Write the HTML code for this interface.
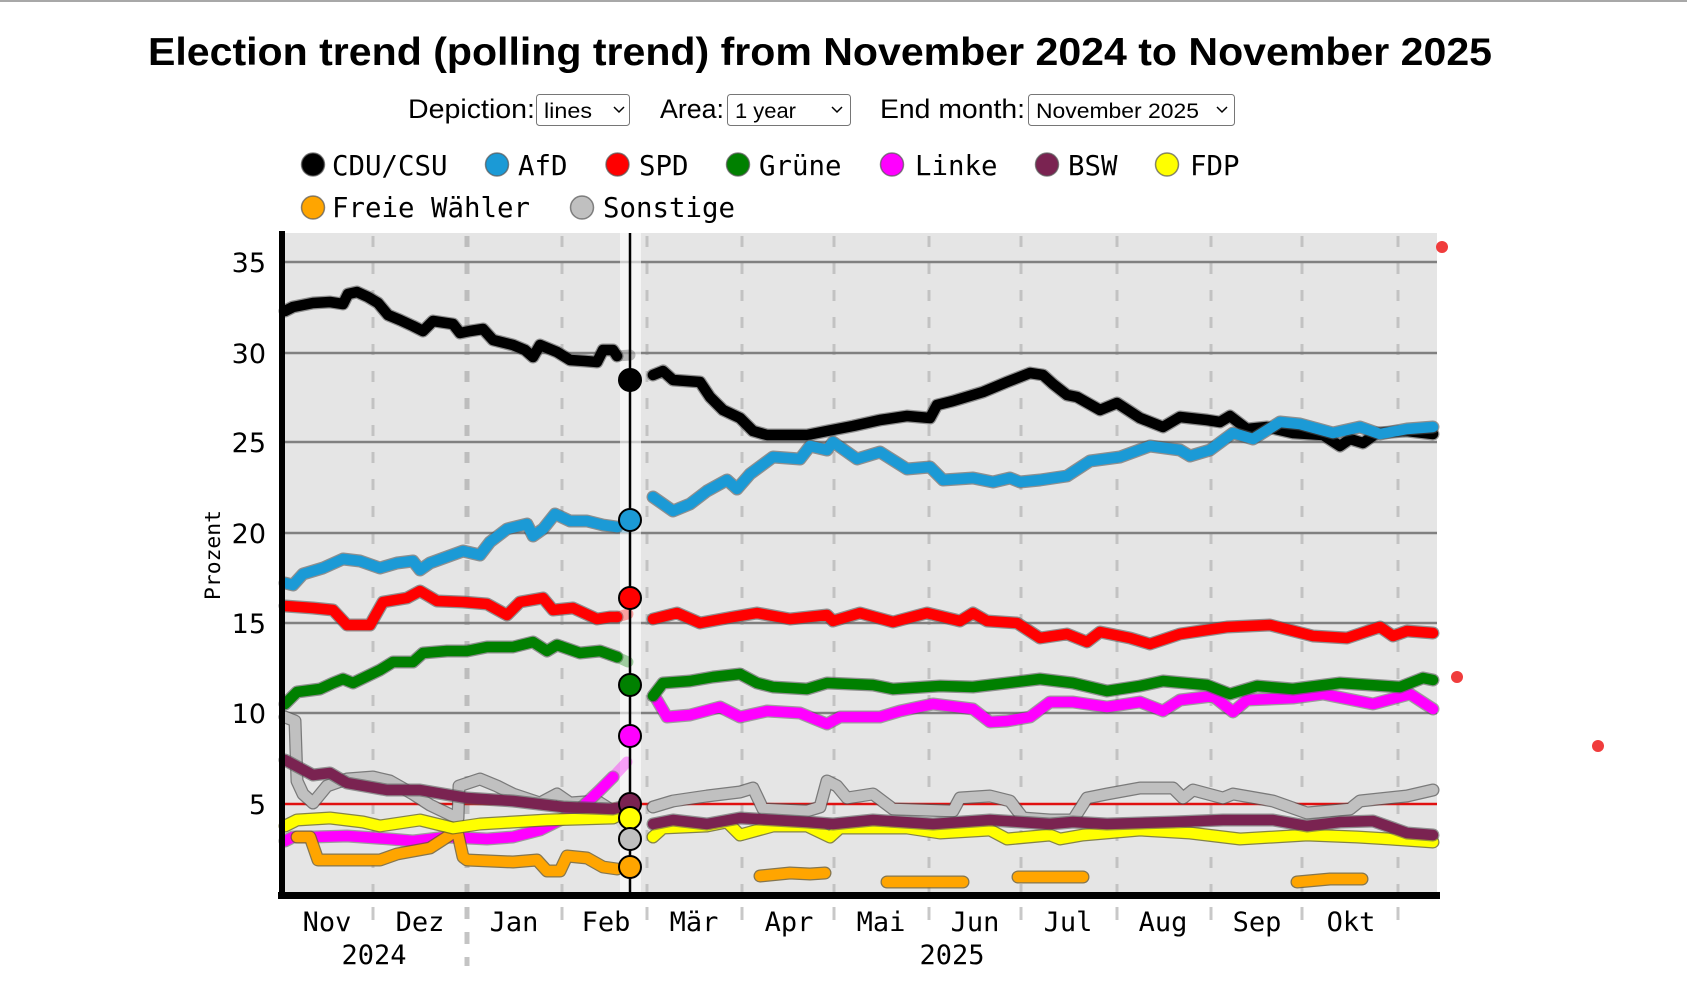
<!DOCTYPE html>
<html>
<head>
<meta charset="utf-8">
<style>
html,body{margin:0;padding:0;background:#fff;}
svg{display:block;}
</style>
</head>
<body>
<svg width="1687" height="998" viewBox="0 0 1687 998" xmlns="http://www.w3.org/2000/svg">
<rect x="0" y="0" width="1687" height="998" fill="#fff"/>
<line x1="0" y1="1" x2="1687" y2="1" stroke="#a8a8a8" stroke-width="2"/>

<!-- Title -->
<text x="148" y="65" font-family="Liberation Sans, sans-serif" font-weight="bold" font-size="39" textLength="1344" lengthAdjust="spacingAndGlyphs" fill="#000">Election trend (polling trend) from November 2024 to November 2025</text>

<!-- Controls -->
<g font-family="Liberation Sans, sans-serif" fill="#000">
<text x="408" y="118" font-size="27" textLength="127" lengthAdjust="spacingAndGlyphs">Depiction:</text>
<rect x="536.5" y="94.5" width="93" height="31" rx="3" fill="#fff" stroke="#767676" stroke-width="1"/>
<text x="544" y="118" font-size="21" textLength="48" lengthAdjust="spacingAndGlyphs">lines</text>
<polyline points="614,107 619,112 624,107" fill="none" stroke="#000" stroke-width="1.5"/>

<text x="660" y="118" font-size="27" textLength="64" lengthAdjust="spacingAndGlyphs">Area:</text>
<rect x="727.5" y="94.5" width="123" height="31" rx="3" fill="#fff" stroke="#767676" stroke-width="1"/>
<text x="735" y="118" font-size="21" textLength="61" lengthAdjust="spacingAndGlyphs">1 year</text>
<polyline points="832,107 837,112 842,107" fill="none" stroke="#000" stroke-width="1.5"/>

<text x="880" y="118" font-size="27" textLength="145" lengthAdjust="spacingAndGlyphs">End month:</text>
<rect x="1028.5" y="94.5" width="206" height="31" rx="3" fill="#fff" stroke="#767676" stroke-width="1"/>
<text x="1036" y="118" font-size="21" textLength="163" lengthAdjust="spacingAndGlyphs">November 2025</text>
<polyline points="1217,107 1222,112 1227,107" fill="none" stroke="#000" stroke-width="1.5"/>
</g>

<!-- Legend -->
<g stroke="#555" stroke-width="1.5" stroke-opacity="0.7">
<circle cx="313" cy="164.5" r="11.5" fill="#000"/>
<circle cx="497" cy="164.5" r="11.5" fill="#1b9ad6"/>
<circle cx="617.5" cy="164.5" r="11.5" fill="#ff0000"/>
<circle cx="738" cy="164.5" r="11.5" fill="#008000"/>
<circle cx="892" cy="164.5" r="11.5" fill="#ff00ff"/>
<circle cx="1047" cy="164.5" r="11.5" fill="#7a2351"/>
<circle cx="1167" cy="164.5" r="11.5" fill="#ffff00"/>
<circle cx="313" cy="207.5" r="11.5" fill="#ffa500"/>
<circle cx="582" cy="207.5" r="11.5" fill="#c0c0c0"/>
</g>
<g font-family="DejaVu Sans Mono, monospace" font-size="27.5" fill="#000">
<text x="332" y="175" textLength="115.5" lengthAdjust="spacingAndGlyphs">CDU/CSU</text>
<text x="518" y="175" textLength="49.5" lengthAdjust="spacingAndGlyphs">AfD</text>
<text x="639" y="175" textLength="49.5" lengthAdjust="spacingAndGlyphs">SPD</text>
<text x="759" y="175" textLength="82.5" lengthAdjust="spacingAndGlyphs">Grüne</text>
<text x="915" y="175" textLength="82.5" lengthAdjust="spacingAndGlyphs">Linke</text>
<text x="1068" y="175" textLength="49.5" lengthAdjust="spacingAndGlyphs">BSW</text>
<text x="1190" y="175" textLength="49.5" lengthAdjust="spacingAndGlyphs">FDP</text>
<text x="332" y="217" textLength="198" lengthAdjust="spacingAndGlyphs">Freie Wähler</text>
<text x="603" y="217" textLength="132" lengthAdjust="spacingAndGlyphs">Sonstige</text>
</g>

<!-- Plot background -->
<rect x="285" y="233" width="1152" height="660" fill="#e5e5e5"/>

<!-- vertical dashed month lines -->
<g stroke="#c2c2c2" stroke-width="3" stroke-dasharray="11 16">
<line x1="373" y1="236" x2="373" y2="892"/>
<line x1="562" y1="236" x2="562" y2="892"/>
<line x1="647" y1="236" x2="647" y2="892"/>
<line x1="742" y1="236" x2="742" y2="892"/>
<line x1="834" y1="236" x2="834" y2="892"/>
<line x1="929" y1="236" x2="929" y2="892"/>
<line x1="1021" y1="236" x2="1021" y2="892"/>
<line x1="1117" y1="236" x2="1117" y2="892"/>
<line x1="1211" y1="236" x2="1211" y2="892"/>
<line x1="1302" y1="236" x2="1302" y2="892"/>
<line x1="1398" y1="236" x2="1398" y2="892"/>
</g>
<line x1="467" y1="236" x2="467" y2="892" stroke="#bdbdbd" stroke-width="5" stroke-dasharray="11 16"/>

<!-- horizontal gridlines -->
<g stroke="#808080" stroke-width="2.5">
<line x1="285" y1="262" x2="1437" y2="262"/>
<line x1="285" y1="353" x2="1437" y2="353"/>
<line x1="285" y1="442" x2="1437" y2="442"/>
<line x1="285" y1="533" x2="1437" y2="533"/>
<line x1="285" y1="623" x2="1437" y2="623"/>
<line x1="285" y1="713" x2="1437" y2="713"/>
</g>
<line x1="285" y1="804" x2="1437" y2="804" stroke="#e01010" stroke-width="2.5"/>

<!-- election band -->
<rect x="620" y="233" width="21" height="659" fill="#ffffff" fill-opacity="0.6"/>

<!-- Series -->
<g fill="none" stroke-linejoin="round" stroke-linecap="round">
<!-- Sonstige -->
<g>
<path d="M285,717 L295,721 L297,781 L303,794 L313,803 L327,786 L347,779 L373,777 L390,781 L413,794 L430,805 L453,816 L458,818 L459,786 L480,779 L497,786 L513,794 L540,803 L557,794 L570,803 L597,801 L613,811" stroke="#555" stroke-opacity="0.75" stroke-width="13"/>
<path d="M285,717 L295,721 L297,781 L303,794 L313,803 L327,786 L347,779 L373,777 L390,781 L413,794 L430,805 L453,816 L458,818 L459,786 L480,779 L497,786 L513,794 L540,803 L557,794 L570,803 L597,801 L613,811" stroke="#c0c0c0" stroke-width="10.5"/>
<path d="M613,811 L625,828" stroke="#c0c0c0" stroke-opacity="0.35" stroke-width="11"/>
<path d="M653,807 L673,801 L707,796 L740,792 L753,788 L763,809 L807,811 L820,807 L827,781 L837,786 L847,798 L873,794 L893,809 L953,811 L960,798 L990,796 L1010,801 L1023,818 L1050,820 L1073,820 L1087,798 L1107,794 L1140,788 L1173,788 L1183,798 L1193,790 L1223,798 L1233,794 L1273,801 L1307,813 L1350,809 L1360,801 L1407,796 L1433,790" stroke="#555" stroke-opacity="0.75" stroke-width="13"/>
<path d="M653,807 L673,801 L707,796 L740,792 L753,788 L763,809 L807,811 L820,807 L827,781 L837,786 L847,798 L873,794 L893,809 L953,811 L960,798 L990,796 L1010,801 L1023,818 L1050,820 L1073,820 L1087,798 L1107,794 L1140,788 L1173,788 L1183,798 L1193,790 L1223,798 L1233,794 L1273,801 L1307,813 L1350,809 L1360,801 L1407,796 L1433,790" stroke="#c0c0c0" stroke-width="10.5"/>
</g>
<!-- Linke -->
<g>
<path d="M285,841 L293,837 L313,837 L347,836 L390,839 L413,841 L447,837 L487,839 L513,837 L540,830 L560,820 L570,816 L580,809 L600,790 L613,777" stroke="#555" stroke-opacity="0.5" stroke-width="13"/>
<path d="M285,841 L293,837 L313,837 L347,836 L390,839 L413,841 L447,837 L487,839 L513,837 L540,830 L560,820 L570,816 L580,809 L600,790 L613,777" stroke="#ff00ff" stroke-width="10.5"/>
<path d="M613,777 L627,762" stroke="#ff00ff" stroke-opacity="0.35" stroke-width="11"/>
<path d="M657,700 L667,717 L690,715 L720,707 L740,717 L767,711 L800,713 L827,724 L840,717 L880,717 L900,711 L933,704 L973,709 L990,722 L1007,721 L1030,717 L1050,702 L1073,702 L1107,707 L1140,702 L1163,711 L1180,700 L1213,696 L1233,712 L1247,700 L1293,698 L1323,694 L1373,704 L1410,694 L1433,709" stroke="#555" stroke-opacity="0.5" stroke-width="13"/>
<path d="M657,700 L667,717 L690,715 L720,707 L740,717 L767,711 L800,713 L827,724 L840,717 L880,717 L900,711 L933,704 L973,709 L990,722 L1007,721 L1030,717 L1050,702 L1073,702 L1107,707 L1140,702 L1163,711 L1180,700 L1213,696 L1233,712 L1247,700 L1293,698 L1323,694 L1373,704 L1410,694 L1433,709" stroke="#ff00ff" stroke-width="10.5"/>
</g>
<!-- Freie Wähler -->
<g>
<path d="M297,837 L310,837 L318,860 L347,860 L380,860 L397,854 L430,848 L447,837 L457,830 L463,857 L467,860 L513,862 L537,860 L547,871 L560,871 L567,856 L587,858 L603,867 L617,869" stroke="#6b5a2a" stroke-opacity="0.8" stroke-width="13"/>
<path d="M297,837 L310,837 L318,860 L347,860 L380,860 L397,854 L430,848 L447,837 L457,830 L463,857 L467,860 L513,862 L537,860 L547,871 L560,871 L567,856 L587,858 L603,867 L617,869" stroke="#ffa500" stroke-width="10.5"/>
<path d="M760,876 L790,873 L810,874 L825,873 M887,882 L963,882 M1018,877 L1083,877 M1297,882 L1330,879 L1362,879" stroke="#6b5a2a" stroke-opacity="0.8" stroke-width="13"/>
<path d="M760,876 L790,873 L810,874 L825,873 M887,882 L963,882 M1018,877 L1083,877 M1297,882 L1330,879 L1362,879" stroke="#ffa500" stroke-width="10.5"/>
</g>
<!-- FDP -->
<g>
<path d="M285,826 L297,820 L330,818 L363,822 L380,826 L420,820 L453,828 L480,824 L513,822 L547,820 L580,819 L613,818 L623,813" stroke="#6b6b20" stroke-opacity="0.8" stroke-width="13"/>
<path d="M285,826 L297,820 L330,818 L363,822 L380,826 L420,820 L453,828 L480,824 L513,822 L547,820 L580,819 L613,818 L623,813" stroke="#ffff00" stroke-width="10.5"/>
<path d="M653,837 L663,828 L707,826 L727,822 L740,835 L773,826 L807,826 L830,837 L840,828 L907,828 L940,833 L990,830 L1007,839 L1050,835 L1060,839 L1083,835 L1140,830 L1190,833 L1240,839 L1307,835 L1357,837 L1390,839 L1433,842" stroke="#6b6b20" stroke-opacity="0.8" stroke-width="13"/>
<path d="M653,837 L663,828 L707,826 L727,822 L740,835 L773,826 L807,826 L830,837 L840,828 L907,828 L940,833 L990,830 L1007,839 L1050,835 L1060,839 L1083,835 L1140,830 L1190,833 L1240,839 L1307,835 L1357,837 L1390,839 L1433,842" stroke="#ffff00" stroke-width="10.5"/>
</g>
<!-- BSW -->
<g>
<path d="M285,760 L313,775 L330,773 L347,783 L387,790 L420,790 L467,798 L513,801 L563,807 L613,809 L625,806" stroke="#555" stroke-opacity="0.6" stroke-width="13"/>
<path d="M285,760 L313,775 L330,773 L347,783 L387,790 L420,790 L467,798 L513,801 L563,807 L613,809 L625,806" stroke="#7a2351" stroke-width="10.5"/>
<path d="M653,824 L673,820 L707,824 L740,818 L807,822 L833,824 L873,820 L933,824 L990,820 L1050,824 L1073,822 L1107,824 L1173,822 L1223,820 L1273,820 L1307,826 L1340,822 L1373,821 L1407,833 L1433,835" stroke="#555" stroke-opacity="0.6" stroke-width="13"/>
<path d="M653,824 L673,820 L707,824 L740,818 L807,822 L833,824 L873,820 L933,824 L990,820 L1050,824 L1073,822 L1107,824 L1173,822 L1223,820 L1273,820 L1307,826 L1340,822 L1373,821 L1407,833 L1433,835" stroke="#7a2351" stroke-width="10.5"/>
</g>
<!-- Grüne -->
<g>
<path d="M285,704 L297,692 L320,689 L333,683 L343,679 L353,683 L380,670 L393,662 L413,662 L423,653 L447,651 L467,651 L487,647 L513,647 L533,642 L547,651 L557,645 L580,653 L600,651 L617,657" stroke="#555" stroke-opacity="0.6" stroke-width="13"/>
<path d="M285,704 L297,692 L320,689 L333,683 L343,679 L353,683 L380,670 L393,662 L413,662 L423,653 L447,651 L467,651 L487,647 L513,647 L533,642 L547,651 L557,645 L580,653 L600,651 L617,657" stroke="#008000" stroke-width="10.5"/>
<path d="M617,657 L628,662" stroke="#008000" stroke-opacity="0.35" stroke-width="11"/>
<path d="M653,696 L663,683 L690,681 L713,677 L740,674 L757,683 L773,687 L807,689 L827,683 L873,685 L893,689 L940,686 L973,687 L1007,683 L1040,679 L1073,683 L1107,691 L1140,686 L1163,681 L1207,685 L1230,694 L1257,686 L1293,689 L1340,683 L1400,687 L1423,678 L1433,680" stroke="#555" stroke-opacity="0.6" stroke-width="13"/>
<path d="M653,696 L663,683 L690,681 L713,677 L740,674 L757,683 L773,687 L807,689 L827,683 L873,685 L893,689 L940,686 L973,687 L1007,683 L1040,679 L1073,683 L1107,691 L1140,686 L1163,681 L1207,685 L1230,694 L1257,686 L1293,689 L1340,683 L1400,687 L1423,678 L1433,680" stroke="#008000" stroke-width="10.5"/>
</g>
<!-- SPD -->
<g>
<path d="M285,606 L313,608 L333,610 L347,625 L370,625 L383,602 L407,598 L420,591 L437,601 L463,602 L487,604 L507,615 L520,602 L543,598 L553,610 L573,608 L597,619 L610,617 L617,617" stroke="#555" stroke-opacity="0.6" stroke-width="13"/>
<path d="M285,606 L313,608 L333,610 L347,625 L370,625 L383,602 L407,598 L420,591 L437,601 L463,602 L487,604 L507,615 L520,602 L543,598 L553,610 L573,608 L597,619 L610,617 L617,617" stroke="#ff0000" stroke-width="10.5"/>
<path d="M617,617 L628,614" stroke="#ff0000" stroke-opacity="0.35" stroke-width="11"/>
<path d="M653,619 L677,613 L700,623 L733,617 L757,613 L790,619 L827,615 L833,621 L860,613 L893,622 L927,613 L960,621 L973,613 L987,621 L1017,623 L1040,638 L1067,634 L1087,642 L1100,632 L1130,638 L1150,644 L1180,634 L1227,627 L1270,625 L1313,636 L1347,638 L1380,627 L1393,636 L1407,631 L1433,633" stroke="#555" stroke-opacity="0.6" stroke-width="13"/>
<path d="M653,619 L677,613 L700,623 L733,617 L757,613 L790,619 L827,615 L833,621 L860,613 L893,622 L927,613 L960,621 L973,613 L987,621 L1017,623 L1040,638 L1067,634 L1087,642 L1100,632 L1130,638 L1150,644 L1180,634 L1227,627 L1270,625 L1313,636 L1347,638 L1380,627 L1393,636 L1407,631 L1433,633" stroke="#ff0000" stroke-width="10.5"/>
</g>
<!-- CDU/CSU -->
<g>
<path d="M285,311 L293,307 L313,303 L330,302 L343,304 L348,294 L357,292 L368,297 L378,303 L388,315 L400,320 L413,326 L423,331 L433,321 L453,324 L460,333 L470,331 L483,329 L493,340 L513,345 L525,350 L533,357 L540,345 L557,352 L570,360 L585,361 L597,362 L603,350 L613,350 L617,356" stroke="#555" stroke-opacity="0.6" stroke-width="13"/>
<path d="M285,311 L293,307 L313,303 L330,302 L343,304 L348,294 L357,292 L368,297 L378,303 L388,315 L400,320 L413,326 L423,331 L433,321 L453,324 L460,333 L470,331 L483,329 L493,340 L513,345 L525,350 L533,357 L540,345 L557,352 L570,360 L585,361 L597,362 L603,350 L613,350 L617,356" stroke="#000" stroke-width="10.5"/>
<path d="M617,356 L630,355" stroke="#000" stroke-opacity="0.25" stroke-width="11"/>
<path d="M653,375 L663,371 L673,380 L700,382 L710,397 L723,410 L740,418 L753,431 L767,435 L807,435 L827,431 L853,426 L880,420 L907,416 L930,418 L937,405 L953,401 L983,392 L1007,382 L1030,373 L1043,375 L1053,384 L1067,395 L1077,397 L1100,410 L1117,403 L1140,418 L1163,427 L1180,417 L1207,420 L1220,422 L1230,416 L1247,429 L1267,427 L1293,433 L1323,435 L1340,446 L1350,439 L1363,443 L1377,433 L1407,431 L1433,434" stroke="#555" stroke-opacity="0.6" stroke-width="13"/>
<path d="M653,375 L663,371 L673,380 L700,382 L710,397 L723,410 L740,418 L753,431 L767,435 L807,435 L827,431 L853,426 L880,420 L907,416 L930,418 L937,405 L953,401 L983,392 L1007,382 L1030,373 L1043,375 L1053,384 L1067,395 L1077,397 L1100,410 L1117,403 L1140,418 L1163,427 L1180,417 L1207,420 L1220,422 L1230,416 L1247,429 L1267,427 L1293,433 L1323,435 L1340,446 L1350,439 L1363,443 L1377,433 L1407,431 L1433,434" stroke="#000" stroke-width="10.5"/>
</g>
<!-- AfD -->
<g>
<path d="M285,583 L293,585 L303,574 L323,568 L343,559 L360,561 L380,568 L397,563 L413,561 L420,570 L430,563 L463,551 L480,555 L490,542 L507,529 L527,524 L533,536 L543,529 L555,514 L570,521 L587,521 L603,525 L617,527" stroke="#555" stroke-opacity="0.6" stroke-width="13"/>
<path d="M285,583 L293,585 L303,574 L323,568 L343,559 L360,561 L380,568 L397,563 L413,561 L420,570 L430,563 L463,551 L480,555 L490,542 L507,529 L527,524 L533,536 L543,529 L555,514 L570,521 L587,521 L603,525 L617,527" stroke="#1b9ad6" stroke-width="10.5"/>
<path d="M617,527 L628,527" stroke="#1b9ad6" stroke-opacity="0.35" stroke-width="11"/>
<path d="M653,497 L673,511 L690,504 L707,491 L727,480 L737,489 L750,474 L773,457 L800,459 L810,446 L827,450 L833,442 L857,459 L880,452 L907,469 L930,467 L943,480 L973,478 L993,482 L1010,478 L1020,482 L1040,480 L1067,476 L1090,461 L1120,457 L1150,446 L1180,450 L1190,456 L1210,450 L1233,433 L1253,439 L1280,422 L1300,424 L1333,433 L1360,427 L1380,434 L1407,429 L1433,427" stroke="#555" stroke-opacity="0.6" stroke-width="13"/>
<path d="M653,497 L673,511 L690,504 L707,491 L727,480 L737,489 L750,474 L773,457 L800,459 L810,446 L827,450 L833,442 L857,459 L880,452 L907,469 L930,467 L943,480 L973,478 L993,482 L1010,478 L1020,482 L1040,480 L1067,476 L1090,461 L1120,457 L1150,446 L1180,450 L1190,456 L1210,450 L1233,433 L1253,439 L1280,422 L1300,424 L1333,433 L1360,427 L1380,434 L1407,429 L1433,427" stroke="#1b9ad6" stroke-width="10.5"/>
</g>
</g>

<!-- election line -->
<line x1="630" y1="233" x2="630" y2="892" stroke="#000" stroke-width="2.5"/>
<!-- election markers -->
<g stroke="#000" stroke-width="2">
<circle cx="630" cy="380" r="11" fill="#000"/>
<circle cx="630" cy="520" r="11" fill="#1b9ad6"/>
<circle cx="630" cy="598" r="11" fill="#ff0000"/>
<circle cx="630" cy="685" r="11" fill="#008000"/>
<circle cx="630" cy="736" r="11" fill="#ff00ff"/>
<circle cx="630" cy="804" r="11" fill="#7a2351"/>
<circle cx="630" cy="818" r="11" fill="#ffff00"/>
<circle cx="630" cy="839" r="11" fill="#c0c0c0"/>
<circle cx="630" cy="867" r="11" fill="#ffa500"/>
</g>

<!-- axes -->
<rect x="279" y="231" width="6" height="668" fill="#000"/>
<rect x="278" y="892" width="1162" height="7" fill="#000"/>

<!-- y labels -->
<g font-family="DejaVu Sans, sans-serif" font-size="27" fill="#000" text-anchor="end">
<text x="266" y="272">35</text>
<text x="266" y="363">30</text>
<text x="266" y="452">25</text>
<text x="266" y="543">20</text>
<text x="266" y="633">15</text>
<text x="266" y="723">10</text>
<text x="266" y="814">5</text>
</g>
<text transform="translate(220,555) rotate(-90)" font-family="DejaVu Sans Mono, monospace" font-size="21" text-anchor="middle" fill="#000" textLength="90" lengthAdjust="spacingAndGlyphs">Prozent</text>

<!-- x ticks -->
<g stroke="#c8c8c8" stroke-width="3">
<line x1="373" y1="907" x2="373" y2="920"/>
<line x1="562" y1="907" x2="562" y2="920"/>
<line x1="647" y1="907" x2="647" y2="920"/>
<line x1="742" y1="907" x2="742" y2="920"/>
<line x1="834" y1="907" x2="834" y2="920"/>
<line x1="929" y1="907" x2="929" y2="920"/>
<line x1="1021" y1="907" x2="1021" y2="920"/>
<line x1="1117" y1="907" x2="1117" y2="920"/>
<line x1="1211" y1="907" x2="1211" y2="920"/>
<line x1="1302" y1="907" x2="1302" y2="920"/>
<line x1="1398" y1="907" x2="1398" y2="920"/>
</g>
<line x1="467" y1="907" x2="467" y2="966" stroke="#c4c4c4" stroke-width="5" stroke-dasharray="12 13"/>

<!-- x labels -->
<g font-family="DejaVu Sans Mono, monospace" font-size="27" fill="#000" text-anchor="middle">
<text x="327" y="931">Nov</text>
<text x="420" y="931">Dez</text>
<text x="514" y="931">Jan</text>
<text x="606" y="931">Feb</text>
<text x="694" y="931">Mär</text>
<text x="789" y="931">Apr</text>
<text x="881" y="931">Mai</text>
<text x="975" y="931">Jun</text>
<text x="1068" y="931">Jul</text>
<text x="1163" y="931">Aug</text>
<text x="1257" y="931">Sep</text>
<text x="1351" y="931">Okt</text>
<text x="374" y="964">2024</text>
<text x="952" y="964">2025</text>
</g>

<!-- stray red dots -->
<g fill="#f03c3c">
<circle cx="1442" cy="247" r="6"/>
<circle cx="1457" cy="677" r="6"/>
<circle cx="1598" cy="746" r="6"/>
</g>
</svg>
</body>
</html>
